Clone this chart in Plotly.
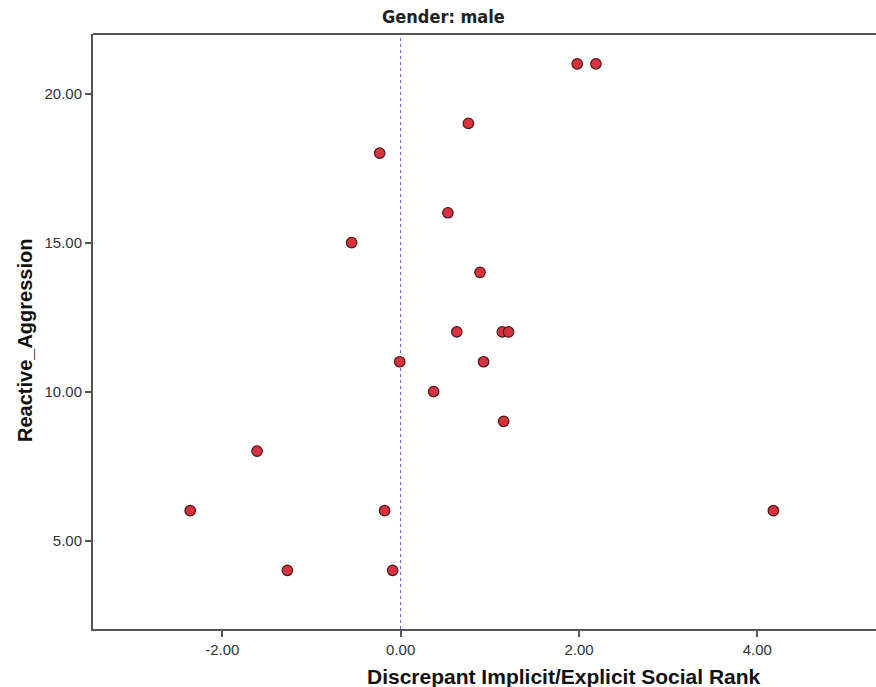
import plotly.graph_objects as go

# Data
discrepant_rank = [1.98, 2.19, 0.76, -0.235, 0.53, -0.55, 0.89, 0.63, 1.14, 1.21,
                   -0.01, 0.93, 0.37, 1.155, -1.61, -2.36, -0.18, -1.27, -0.09, 4.18]
reactive_aggression = [21, 21, 19, 18, 16, 15, 14, 12, 12, 12,
                       11, 11, 10, 9, 8, 6, 6, 4, 4, 6]
x_ticks = [-2, 0, 2, 4]
x_tick_labels = ["-2.00", "0.00", "2.00", "4.00"]
y_ticks = [5, 10, 15, 20]
y_tick_labels = ["5.00", "10.00", "15.00", "20.00"]

# the plot frame runs past the right edge of the 876 px view, as in the reference
W, H = 900, 687
L, R, T, B = 93, 0, 34, 58
PW, PH = W - L - R, H - T - B

fig = go.Figure()
fig.add_trace(go.Scatter(
    x=discrepant_rank, y=reactive_aggression, mode="markers",
    marker=dict(size=10.5, color="#d8323f", line=dict(color="#4a1518", width=1.2)),
    showlegend=False, hoverinfo="x+y"))

# reference line at x = 0
fig.add_shape(type="line", xref="x", yref="paper", x0=0, x1=0, y0=0, y1=1,
              line=dict(color="#5b5bd6", width=1, dash="3px,3px"), layer="below")
# top border
fig.add_shape(type="line", xref="paper", yref="paper", x0=0, x1=1, y0=1, y1=1,
              line=dict(color="#555555", width=2))
# keep the strip at the right edge of the view blank
fig.add_shape(type="rect", xref="paper", yref="paper",
              x0=(860 - L) / PW, x1=1, y0=0.01, y1=0.99,
              line=dict(width=0), fillcolor="white", layer="above")

fig.add_annotation(text="<b>Gender: male</b>", xref="paper", yref="paper",
                   x=(443 - L) / PW, y=1, yanchor="bottom", yshift=5,
                   showarrow=False,
                   font=dict(family="DejaVu Sans Condensed, Liberation Sans Narrow, Liberation Sans",
                             size=18, color="#222222"))

# axis titles
fig.add_annotation(text="<b>Discrepant Implicit/Explicit Social Rank</b>", xref="paper", yref="paper",
                   x=(564 - L) / PW, y=-(676 - T - PH) / PH, xanchor="center", yanchor="middle",
                   showarrow=False,
                   font=dict(family="Liberation Sans, Arial", size=21, color="#111111"))
fig.add_annotation(text="<b>Reactive_Aggression</b>", xref="paper", yref="paper",
                   x=-(L - 25) / PW, y=1 - (341 - T) / PH, xanchor="center", yanchor="middle",
                   textangle=-90, showarrow=False,
                   font=dict(family="Liberation Sans, Arial", size=20, color="#111111"))

axis_font = dict(family="Liberation Sans, Arial", size=15, color="#333333")
fig.update_xaxes(range=[-3.45, 5.60], tickvals=x_ticks, ticktext=x_tick_labels,
                 showgrid=False, zeroline=False, showline=True, linecolor="#555555", linewidth=2,
                 ticks="outside", ticklen=6, tickwidth=2, tickcolor="#555555",
                 tickfont=axis_font, mirror=False)
fig.update_yaxes(range=[2.03, 22.0], tickvals=y_ticks, ticktext=y_tick_labels,
                 showgrid=False, zeroline=False, showline=True, linecolor="#555555", linewidth=2,
                 ticks="outside", ticklen=6, tickwidth=2, tickcolor="#555555",
                 tickfont=axis_font, mirror=False)

fig.update_layout(width=W, height=H, margin=dict(l=L, r=R, t=T, b=B),
                  plot_bgcolor="white", paper_bgcolor="white")

fig.write_html("out.html", config={"displayModeBar": False},
               post_script=("document.body.style.margin='0px';"
                            "document.body.style.overflow='hidden';"
                            "document.documentElement.style.overflow='hidden';"))
